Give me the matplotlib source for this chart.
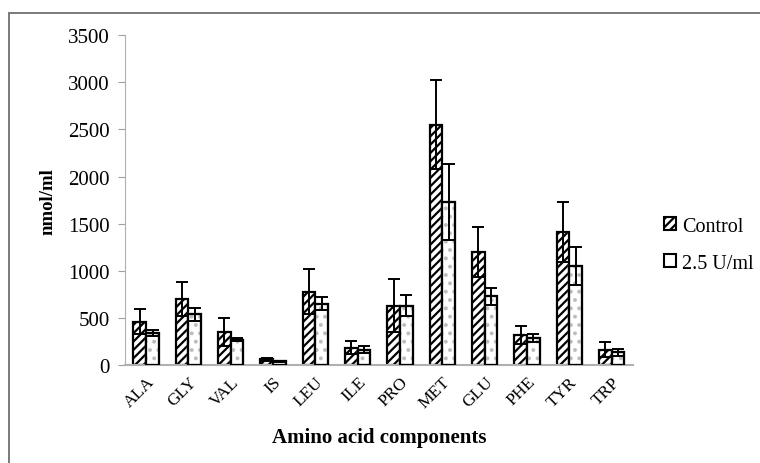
import matplotlib.pyplot as plt
import matplotlib.patches as mpatches
import numpy as np

plt.rcParams['font.family'] = ['Liberation Serif', 'DejaVu Serif']
plt.rcParams['hatch.linewidth'] = 1.6

# Data
amino_acids = ['ALA', 'GLY', 'VAL', 'IS', 'LEU', 'ILE', 'PRO', 'MET', 'GLU', 'PHE', 'TYR', 'TRP']
control = [460, 700, 350, 60, 780, 185, 630, 2550, 1200, 320, 1410, 165]
control_err = [130, 180, 150, 15, 240, 70, 280, 470, 270, 100, 320, 75]
treated = [340, 540, 270, 40, 650, 165, 630, 1730, 730, 290, 1050, 135]
treated_err = [30, 70, 15, 5, 70, 35, 110, 400, 90, 40, 200, 40]

fig = plt.figure(figsize=(7.6, 4.64), dpi=100)
ax = fig.add_axes([0.1645, 0.211, 0.668, 0.711])

# outer frame of the figure (only left and top edges visible)
fig.patches.append(mpatches.Rectangle((0.012, -0.1), 1.2, 0.1 + 0.969, transform=fig.transFigure,
                                      fill=False, edgecolor='#6f6f6f', linewidth=1.3))

x = np.arange(len(amino_acids))
width = 0.3
ax.bar(x - width / 2, control, width, color='white', edgecolor='black', hatch='////',
       linewidth=1.6, label='Control', zorder=2)
ax.bar(x + width / 2, treated, width, color='white', edgecolor='#bdbdbd', hatch='..',
       linewidth=1.6, label='2.5 U/ml', zorder=2)
ax.bar(x + width / 2, treated, width, fill=False, edgecolor='black', linewidth=1.6, zorder=3)

ax.errorbar(x - width / 2, control, yerr=control_err, fmt='none', ecolor='black',
            elinewidth=1.4, capsize=4, capthick=1.4, zorder=4)
ax.errorbar(x + width / 2, treated, yerr=treated_err, fmt='none', ecolor='black',
            elinewidth=1.4, capsize=4, capthick=1.4, zorder=4)

ax.set_xlim(-0.5, len(amino_acids) - 0.5)
ax.set_ylim(0, 3500)
ax.set_yticks(np.arange(0, 3501, 500))
ax.set_xticks(x)
ax.set_xticklabels(amino_acids, rotation=45, ha='right', rotation_mode='anchor', fontsize=12.5)
ax.tick_params(axis='x', length=0, pad=6)
ax.tick_params(axis='y', labelsize=15, color='#a0a0a0', length=5, pad=6)

for side in ['top', 'right']:
    ax.spines[side].set_visible(False)
ax.spines['left'].set_color('#b0b0b0')
ax.spines['bottom'].set_color('#b0b0b0')
ax.spines['bottom'].set_linewidth(1.5)

ax.set_ylabel('nmol/ml', fontsize=13.5, fontweight='bold', labelpad=8)
ax.set_xlabel('Amino acid components', fontsize=15, fontweight='bold', labelpad=12)

h1 = mpatches.Patch(facecolor='white', edgecolor='black', hatch='////', linewidth=1.5, label='Control')
h2 = mpatches.Patch(facecolor='white', edgecolor='black', linewidth=1.5, label='2.5 U/ml')
fig.legend(handles=[h1, h2], loc='center left', bbox_to_anchor=(0.85, 0.47), frameon=False,
           fontsize=14.5, handlelength=0.6, handleheight=0.6, handletextpad=0.3, labelspacing=0.9)

plt.savefig('out.png', dpi=100)
